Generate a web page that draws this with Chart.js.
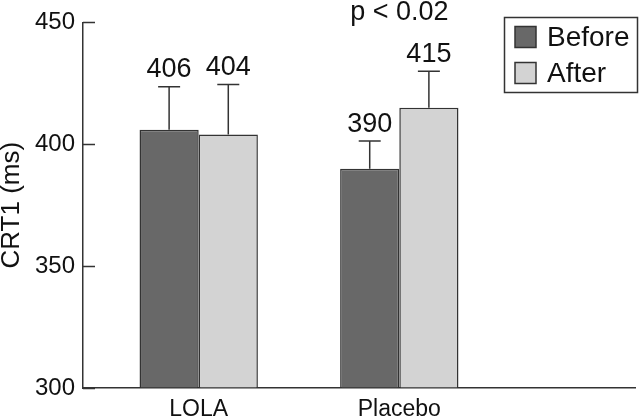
<!DOCTYPE html>
<html>
<head>
<meta charset="utf-8">
<script src="https://cdn.jsdelivr.net/npm/chart.js@4.4.1/dist/chart.umd.min.js"></script>
<style>
html, body { margin: 0; padding: 0; background: #fff; }
#wrap { width: 640px; height: 418px; }
</style>
</head>
<body>
<div id="wrap"><canvas id="crt"></canvas></div>
<script>
var groups = ["LOLA", "Placebo"];
var seriesNames = ["Before", "After"];
var before = [406, 390];
var after = [404, 415];
var beforeErr = [17.6, 11.3];
var afterErr = [20.5, 15];
var yTicks = [300, 350, 400, 450];
var pNote = "p < 0.02";

var FONT = "'Liberation Sans', Arial, Helvetica, sans-serif";
var darkGrey = "#686868";
var lightGrey = "#d3d3d3";
var lineCol = "#333";

Chart.defaults.font.family = FONT;
Chart.defaults.color = "#111";

function toPoints(arr) {
    return arr.map(function(v, i) { return {x: i + 1, y: v}; });
}

// error whiskers (up only) + the value written above them
var errorBars = {
    id: "errorBars",
    afterDatasetsDraw: function(chart) {
        var ctx = chart.ctx, y = chart.scales.y;
        chart.data.datasets.forEach(function(ds, di) {
            var meta = chart.getDatasetMeta(di);
            meta.data.forEach(function(bar, i) {
                var v = ds.data[i].y;
                var top = y.getPixelForValue(v + ds.errors[i]);
                ctx.save();
                ctx.strokeStyle = lineCol;
                ctx.lineWidth = 1.5;
                ctx.beginPath();
                ctx.moveTo(bar.x, bar.y);
                ctx.lineTo(bar.x, top);
                ctx.moveTo(bar.x - 11, top);
                ctx.lineTo(bar.x + 11, top);
                ctx.stroke();
                ctx.fillStyle = "#111";
                ctx.font = "27px " + FONT;
                ctx.textAlign = "center";
                ctx.textBaseline = "alphabetic";
                ctx.fillText(String(v), bar.x, top - 9.5);
                ctx.restore();
            });
        });
    }
};

// inward tick marks, p value, boxed legend
var extras = {
    id: "extras",
    afterDraw: function(chart) {
        var ctx = chart.ctx, area = chart.chartArea;
        var y = chart.scales.y, x = chart.scales.x;
        ctx.save();
        ctx.strokeStyle = lineCol;
        ctx.lineWidth = 1.5;
        ctx.beginPath();
        yTicks.forEach(function(t) {
            var py = Math.round(y.getPixelForValue(t)) + 0.5;
            ctx.moveTo(area.left, py);
            ctx.lineTo(area.left + 12, py);
        });
        ctx.stroke();

        ctx.fillStyle = "#111";
        ctx.font = "27px " + FONT;
        ctx.textAlign = "center";
        ctx.textBaseline = "alphabetic";
        ctx.fillText(pNote, x.getPixelForValue(2), 20);

        // legend
        ctx.lineWidth = 1.5;
        ctx.strokeRect(504.5, 17.5, 133, 75);
        ctx.font = "28px " + FONT;
        ctx.textAlign = "left";
        chart.data.datasets.forEach(function(ds, i) {
            var cy = 37 + i * 36;
            ctx.fillStyle = ds.backgroundColor;
            ctx.fillRect(515, cy - 10.5, 21, 21);
            ctx.strokeRect(515, cy - 10.5, 21, 21);
            ctx.fillStyle = "#111";
            ctx.textBaseline = "middle";
            ctx.fillText(ds.label, 547, cy + 1);
        });
        ctx.restore();
    }
};

var ctx = document.getElementById("crt");
var myChart = new Chart(ctx, {
    type: "bar",
    data: {
        datasets: [{
            label: seriesNames[0],
            data: toPoints(before),
            errors: beforeErr,
            backgroundColor: darkGrey,
            borderColor: lineCol,
            borderWidth: 1.5,
            base: 300
        }, {
            label: seriesNames[1],
            data: toPoints(after),
            errors: afterErr,
            backgroundColor: lightGrey,
            borderColor: lineCol,
            borderWidth: 1.5,
            base: 300
        }]
    },
    options: {
        responsive: true,
        maintainAspectRatio: false,
        animation: false,
        events: [],
        layout: { padding: { top: 17, right: 5, left: 0, bottom: 0 } },
        datasets: { bar: { categoryPercentage: 0.59, barPercentage: 1 } },
        plugins: { legend: { display: false }, tooltip: { enabled: false } },
        scales: {
            x: {
                type: "linear",
                min: 0.4232,
                max: 3.175,
                offset: false,
                z: 1,
                grid: { display: true, drawOnChartArea: false, drawTicks: false, offset: false },
                border: { display: true, color: lineCol, width: 1.5 },
                afterBuildTicks: function(scale) {
                    scale.ticks = groups.map(function(g, i) { return {value: i + 1}; });
                },
                afterFit: function(scale) { scale.height = 30; },
                ticks: {
                    padding: 10,
                    maxRotation: 0,
                    autoSkip: false,
                    font: { size: 23, lineHeight: 1 },
                    callback: function(v) { return groups[v - 1] || ""; }
                }
            },
            y: {
                min: 300,
                max: 450,
                z: 1,
                afterBuildTicks: function(scale) {
                    scale.ticks = yTicks.map(function(t) { return {value: t}; });
                },
                afterFit: function(scale) { scale.width = 83; },
                grid: { display: true, drawOnChartArea: false, drawTicks: false },
                border: { display: true, color: lineCol, width: 1.5 },
                ticks: { padding: 8, font: { size: 24 } },
                title: {
                    display: true,
                    text: "CRT1 (ms)",
                    font: { size: 26, lineHeight: 0.9 },
                    padding: 0
                }
            }
        }
    },
    plugins: [errorBars, extras]
});
</script>
</body>
</html>
